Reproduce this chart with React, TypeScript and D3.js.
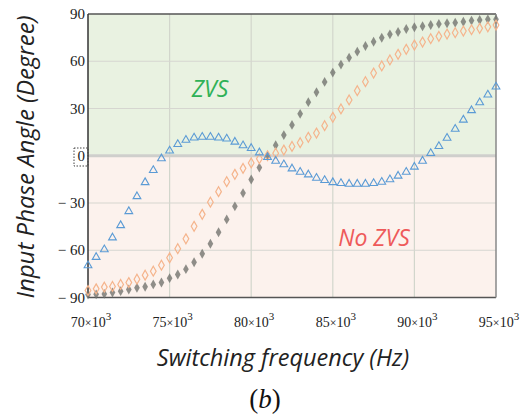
import React from "react";
import * as d3 from "d3";

const freqStart = 70000;
const freqStep = 500;
const blueTriangles = [
  -69.7, -64.4, -59.5, -52, -44.2, -35.3, -25.8, -16.9, -9.2, -1.8,
  3.2, 7.3, 10, 11.4, 11.9, 11.9, 11.4, 10.8, 8.8, 6.5,
  4.8, 2, -1, -3.3, -5.6, -8.2, -10.3, -12, -14.1, -15.6,
  -16.9, -17.5, -17.9, -17.9, -17.9, -17.5, -16.7, -15.1, -12.8, -10.3,
  -7.1, -3.3, 1.6, 6, 11.3, 17, 22.8, 28.8, 33.8, 38.7, 43.8,
];
const orangeDiamonds = [
  -85.6, -84.5, -83.4, -83, -81.7, -80.5, -78.4, -75.8, -73.3, -69.5,
  -64.8, -59, -52.7, -44.8, -37.2, -29.5, -22.8, -16.5, -11.8, -8,
  -4.6, -1.9, 0, 1.6, 3.6, 5.9, 8.3, 11.7, 14.4, 19.1,
  24.4, 29.7, 35.4, 41.3, 47, 52.5, 57, 60.8, 64.4, 67.6,
  70.3, 72.2, 74.3, 75.8, 77.3, 78.1, 79.2, 80, 80.9, 81.9, 83,
];
const grayDiamonds = [
  -88.1, -88, -87.7, -86.8, -86, -84.9, -83.8, -83.2, -81.7, -80.5,
  -77.7, -75.4, -72, -67.6, -62.2, -55.9, -48.6, -40.4, -32.1, -23.7,
  -15.1, -7.5, -0.2, 6.7, 13.1, 19.6, 26.6, 34, 40.3, 46.9,
  52.8, 57.9, 62.3, 66.1, 69.7, 72.4, 74.9, 77.1, 78.6, 80.5,
  81.6, 82.2, 83, 83.7, 84.1, 84.5, 85.1, 85.8, 86.2, 86.6, 86.6,
];
const xTicks = [70000, 75000, 80000, 85000, 90000, 95000];
const xTickBases = ["70", "75", "80", "85", "90", "95"];
const yTicks = [90, 60, 30, 0, -30, -60, -90];

export default function App() {
  const x = d3.scaleLinear().domain([70000, 95000]).range([88, 496]);
  const y = d3.scaleLinear().domain([-90, 90]).range([297.5, 14]);
  const fx = (i: number) => x(freqStart + i * freqStep);
  const tri = d3.symbol().type(d3.symbolTriangle).size(26)()!;
  const dia = d3.symbol().type(d3.symbolDiamond).size(28)()!;
  const serif = "'Liberation Serif', 'Times New Roman', serif";
  const sans = "'Open Sans', 'Noto Sans', sans-serif";
  return (
    <svg width={529} height={419} style={{ position: "absolute", left: 0, top: 0, background: "#fff" }}>
      <rect x={x(70000)} y={y(90)} width={x(95000) - x(70000)} height={y(0) - y(90)} fill="#e9f2e1" />
      <rect x={x(70000)} y={y(0)} width={x(95000) - x(70000)} height={y(-90) - y(0)} fill="#fcf2ed" />
      {xTicks.slice(1, -1).map((t) => (
        <line key={t} x1={x(t)} x2={x(t)} y1={y(90)} y2={y(-90)} stroke="#d2d6cc" strokeWidth={1.2} />
      ))}
      {yTicks.filter((t) => t !== 0 && Math.abs(t) !== 90).map((t) => (
        <line key={t} x1={x(70000)} x2={x(95000)} y1={y(t)} y2={y(t)} stroke="#d6d6d0" strokeWidth={1.2} />
      ))}
      <line x1={x(70000)} x2={x(95000)} y1={y(0)} y2={y(0)} stroke="#cfcfcc" strokeWidth={3} />
      {/* frame */}
      <line x1={x(70000)} x2={x(95000)} y1={y(90)} y2={y(90)} stroke="#555" strokeWidth={1.5} />
      <line x1={x(70000)} x2={x(95000)} y1={y(-90)} y2={y(-90)} stroke="#555" strokeWidth={1.5} />
      <line x1={x(95000)} x2={x(95000)} y1={y(90)} y2={y(-90)} stroke="#888" strokeWidth={1.5} />
      <line x1={x(70000)} x2={x(70000)} y1={y(90)} y2={y(-90)} stroke="#333" strokeWidth={1.5} />
      {/* region labels */}
      <text x={210} y={97} fill="#2fb157" fontFamily={sans} fontStyle="italic" fontSize={23} textAnchor="middle">ZVS</text>
      <text x={374} y={246} fill="#ee5a5a" fontFamily={sans} fontStyle="italic" fontSize={23} textAnchor="middle">No ZVS</text>
      {/* series */}
      {grayDiamonds.map((v, i) => (
        <path key={"g" + i} d={dia} transform={`translate(${fx(i)},${y(v)})`} fill="#6f716c" fillOpacity={0.78} />
      ))}
      {orangeDiamonds.map((v, i) => (
        <path key={"o" + i} d={dia} transform={`translate(${fx(i)},${y(v)})`} fill="none" stroke="#f5b48c" strokeWidth={1.2} />
      ))}
      {blueTriangles.map((v, i) => (
        <path key={"b" + i} d={tri} transform={`translate(${fx(i)},${y(v)})`} fill="none" stroke="#5b9bd5" strokeWidth={1.1} />
      ))}
      {/* y ticks */}
      {yTicks.map((t) => (
        <text key={t} x={85} y={y(t) + 5} fontFamily={serif} fontSize={15} textAnchor="end" fill="#222">
          {t < 0 ? `\u2212 ${Math.abs(t)}` : `${t}`}
        </text>
      ))}
      <rect x={74} y={148} width={14} height={18} fill="none" stroke="#444" strokeWidth={1} strokeDasharray="1.5,1.5" />
      {/* x ticks */}
      {xTicks.map((t, i) => (
        <text key={t} x={x(t) + 3} y={327} fontFamily={serif} fontSize={14} textAnchor="middle" fill="#222">
          {xTickBases[i]}
          <tspan fontSize={12}>×</tspan>10
          <tspan dy={-7} fontSize={11}>3</tspan>
        </text>
      ))}
      {/* axis titles */}
      <text x={0} y={0} transform={`translate(34,157) rotate(-90)`} fontFamily={sans} fontStyle="italic" fontSize={24} textAnchor="middle" fill="#222">
        Input Phase Angle (Degree)
      </text>
      <text x={283} y={366} fontFamily={sans} fontStyle="italic" fontSize={23.5} textAnchor="middle" fill="#222">
        Switching frequency (Hz)
      </text>
      <text x={265} y={408} fontFamily={serif} fontSize={27} textAnchor="middle" fill="#111">
        (<tspan fontStyle="italic">b</tspan>)
      </text>
    </svg>
  );
}
